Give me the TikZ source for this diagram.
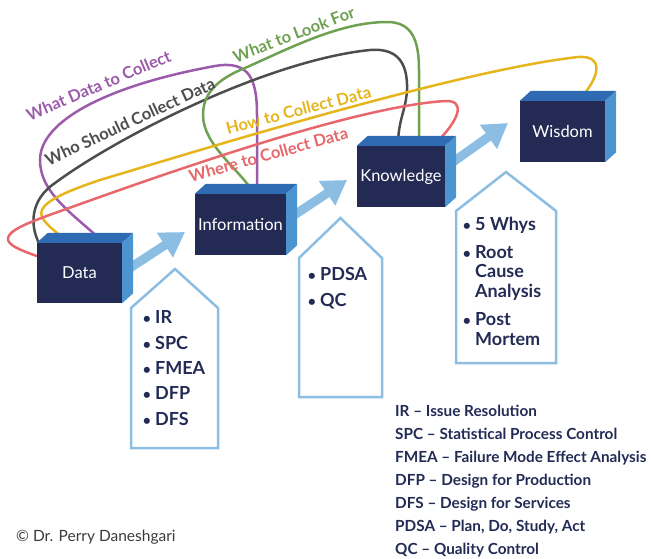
\documentclass[tikz,border=0pt]{standalone}
\usepackage{fontspec}
\setmainfont{Lato}
\usetikzlibrary{arrows.meta,calc}
\pgfdeclarelayer{bg}
\pgfsetlayers{bg,main}
\definecolor{navy}{HTML}{232B55}
\definecolor{topblue}{HTML}{2E6BB3}
\definecolor{sideblue}{HTML}{4B94D0}
\definecolor{lightblue}{HTML}{8CBDE3}
\definecolor{cpurple}{HTML}{9C5BAA}
\definecolor{cgray}{HTML}{4D4D4D}
\definecolor{cgreen}{HTML}{6FA152}
\definecolor{cyellow}{HTML}{E6B51C}
\definecolor{cred}{HTML}{E8676B}
\definecolor{copygray}{HTML}{3A3A3A}
\begin{document}
\begin{tikzpicture}[x=1pt,y=-1pt,
 cubefront/.style={fill=navy, text=white, inner sep=0pt, font=\fontsize{16.5}{19}\selectfont},
 cubetop/.style={fill=topblue},
 cubeside/.style={fill=sideblue},
 link/.style={line width=2.5pt, line cap=round},
 flow/.style={draw=lightblue, line width=9pt, -{Triangle[width=28pt,length=24pt]}},
 house/.style={draw=lightblue, line width=2.5pt, line join=miter},
 item/.style={anchor=base west, inner sep=0pt, text=navy, font=\bfseries\fontsize{18}{20}\selectfont},
 bul/.style={anchor=base, inner sep=0pt, text=navy, font=\bfseries\fontsize{14}{16}\selectfont},
 lab/.style={anchor=base, inner sep=0pt, font=\bfseries\fontsize{16.5}{19}\selectfont},
 legend/.style={anchor=base west, inner sep=0pt, text=navy, font=\bfseries\fontsize{15.3}{18}\selectfont},
]
\useasboundingbox (0,0) rectangle (651,558);

% cubes
\node[cubefront, minimum width=85pt, minimum height=60pt] (data) at (79.5,273) {Data};
\node[cubefront, minimum width=91pt, minimum height=61pt] (info) at (240.5,224.5) {Information};
\node[cubefront, minimum width=88pt, minimum height=61pt] (know) at (401,176.5) {Knowledge};
\node[cubefront, minimum width=85pt, minimum height=61pt] (wis) at (562.5,131.5) {Wisdom};
\foreach \c in {data,info,know,wis}{
  \fill[cubetop] (\c.north west) -- ++(11,-10) -- ($(\c.north east)+(11,-10)$) -- (\c.north east) -- cycle;
  \fill[cubeside] (\c.north east) -- ++(11,-10) -- ($(\c.south east)+(11,-10)$) -- (\c.south east) -- cycle;
}

\begin{pgfonlayer}{bg}
% connecting curves
\draw[link, cpurple] ([xshift=25pt]data.north) .. controls (70,212) and (40,192) .. (40,160)
  .. controls (40,120) and (110,85) .. (215,66) .. controls (250,60) and (257,80) .. (257,115)
  -- ([xshift=16.5pt]info.north);
\draw[link, cgray] ([xshift=2pt]data.north west) .. controls (30,225) and (30,200) .. (55,183)
  .. controls (120,135) and (270,60) .. (370,50) .. controls (395,48) and (408,60) .. (407,90)
  .. controls (406,110) and (398,120) .. ([xshift=-3pt]know.north);
\draw[link, cgreen] ([xshift=14pt]info.north) .. controls (240,170) and (203,145) .. (203,115)
  .. controls (203,95) and (215,80) .. (245,68) .. controls (290,48) and (340,22) .. (387,22)
  .. controls (412,22) and (419,40) .. (419,70) -- ([xshift=18pt]know.north);
\draw[link, cyellow] ([xshift=-9.5pt]data.north) .. controls (50,228) and (38,218) .. (42,210)
  .. controls (46,200) and (70,190) .. (100,180) .. controls (200,150) and (460,70) .. (578,57)
  .. controls (605,55) and (600,78) .. ([xshift=15.5pt]wis.north);
\draw[link, cred] ([yshift=17pt]data.west) .. controls (20,250) and (7,245) .. (8,238)
  .. controls (9,230) and (30,222) .. (55,213) .. controls (150,179) and (350,107) .. (445,101)
  .. controls (465,100) and (462,118) .. ([xshift=32pt]know.north);
% flow arrows
\coordinate (t1) at (185,232);
\coordinate (t2) at (347,180);
\coordinate (t3) at (508,123);
\draw[flow] (data.east) -- (t1);
\draw[flow] ([yshift=4pt]info.east) -- (t2);
\draw[flow] ([yshift=9pt]know.east) -- (t3);
\end{pgfonlayer}

% curve labels
\node[lab, text=cpurple, rotate=23] (lpurple) at (101,91) {What Data to Collect};
\node[lab, text=cgray, rotate=25] (lgray) at (132.5,127) {Who Should Collect Data};
\node[lab, text=cgreen, rotate=21] (lgreen) at (296,40) {What to Look For};
\node[lab, text=cyellow, rotate=14.5] (lyellow) at (300,116) {How to Collect Data};
\node[lab, text=cred, rotate=15.5] (lred) at (270,160.5) {Where to Collect Data};

% house shapes
\draw[house] (131,448) -- (131,308) -- (175,269) -- (218,308) -- (218,448) -- cycle;
\draw[house] (299,397) -- (299,258) -- (340.5,218) -- (382,258) -- (382,397) -- cycle;
\draw[house] (456,363) -- (456,211) -- (506,172) -- (556,211) -- (556,363) -- cycle;

% lists
\foreach \y/\t [count=\i] in {323/IR,349/SPC,374/FMEA,399/DFP,425/DFS}{
  \node[bul] (ba\i) at (147,\y) {•};
  \node[item] (ia\i) at (155,\y) {\t};
}
\foreach \y/\t [count=\i] in {280/PDSA,306/QC}{
  \node[bul] (bb\i) at (312,\y) {•};
  \node[item] (ib\i) at (320,\y) {\t};
}
\node[bul] (bc1) at (467,230) {•};
\node[item] (ic1) at (475,230) {5 Whys};
\node[bul] (bc2) at (467,258) {•};
\node[item] (ic2) at (475,258) {Root};
\node[item] (ic3) at (475,277) {Cause};
\node[item] (ic4) at (475,297) {Analysis};
\node[bul] (bc5) at (467,325) {•};
\node[item] (ic5) at (475,325) {Post};
\node[item] (ic6) at (475,345) {Mortem};

% legend
\foreach \t [count=\i] in {{IR – Issue Resolution},{SPC – Statistical Process Control},{FMEA – Failure Mode Effect Analysis},{DFP – Design for Production},{DFS – Design for Services},{PDSA – Plan, Do, Study, Act},{QC – Quality Control}}{
  \node[legend] (leg\i) at (395,393+23*\i) {\t};
}

\node[anchor=base west, inner sep=0pt, text=copygray, font=\fontsize{15.5}{18}\selectfont] (copy) at (16,541) {© Dr. Perry Daneshgari};
\end{tikzpicture}
\end{document}
